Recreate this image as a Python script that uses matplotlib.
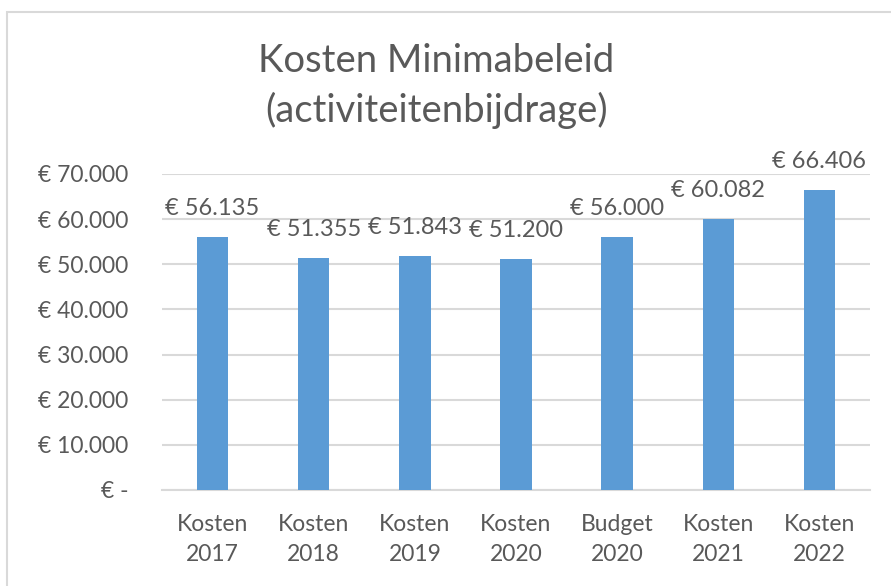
import matplotlib
matplotlib.use("Agg")
import matplotlib.pyplot as plt
from matplotlib.patches import Rectangle
from matplotlib.ticker import FuncFormatter

categories = ["Kosten\n2017", "Kosten\n2018", "Kosten\n2019", "Kosten\n2020",
              "Budget\n2020", "Kosten\n2021", "Kosten\n2022"]
values = [56135, 51355, 51843, 51200, 56000, 60082, 66406]
yticks = [0, 10000, 20000, 30000, 40000, 50000, 60000, 70000]
title = "Kosten Minimabeleid\n(activiteitenbijdrage)"

plt.rcParams['font.family'] = ['Lato', 'DejaVu Sans']
TXT = "#595959"
GRID = "#d9d9d9"
BAR = "#5B9BD5"

def euro(v):
    if v == 0:
        return "€ -"
    return "€ " + f"{int(round(v)):,}".replace(",", ".")

fig = plt.figure(figsize=(8.91, 5.86), dpi=100)
ax = fig.add_axes([162/891, 1-490/586, (870-162)/891, (490-174)/586])

x = list(range(len(categories)))
bars = ax.bar(x, values, width=0.31, color=BAR, zorder=3)
ax.set_xlim(-0.5, len(categories)-0.5)
ax.set_ylim(0, 70000)
ax.set_yticks(yticks)
ax.yaxis.set_major_formatter(FuncFormatter(lambda v, p: euro(v)))
ax.set_xticks(x)
ax.set_xticklabels(categories, linespacing=1.55)
ax.tick_params(axis='both', length=0, labelsize=16.5, colors=TXT)
ax.tick_params(axis='y', pad=24)
ax.tick_params(axis='x', pad=17)
for lbl in ax.get_yticklabels():
    lbl.set_horizontalalignment('right')
ax.grid(axis='y', color=GRID, linewidth=1.5, zorder=0)
for s in ['left', 'right', 'top']:
    ax.spines[s].set_visible(False)
ax.spines['bottom'].set_color(GRID)
ax.spines['bottom'].set_linewidth(1.5)

for xi, v in zip(x, values):
    ax.annotate(euro(v), (xi, v), xytext=(0, 13), textcoords='offset points',
                ha='center', va='bottom', fontsize=17, color=TXT)

fig.text(0.49, 1-86/586, title, ha='center', va='center', fontsize=27.5,
         color=TXT, linespacing=1.4)

fig.patches.append(Rectangle((7/891, -0.1), 1.2, 1.1 - 12/586 + 0.0,
                             transform=fig.transFigure, fill=False,
                             edgecolor="#d9d9d9", linewidth=1.5))

fig.savefig("out.png", dpi=100)
